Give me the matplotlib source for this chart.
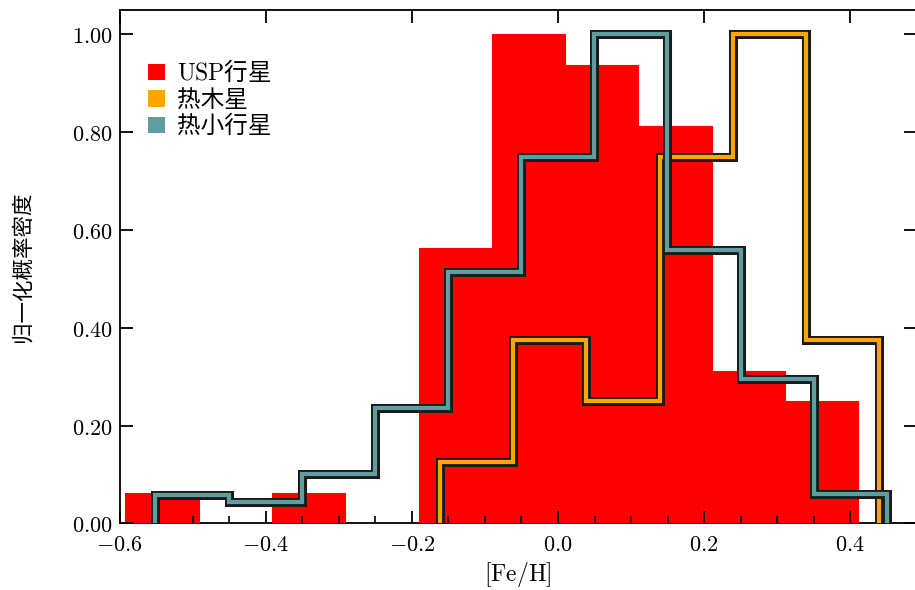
import numpy as np
import matplotlib
matplotlib.use("Agg")
import matplotlib.pyplot as plt
from matplotlib.patches import Patch
from matplotlib.ticker import FixedLocator, FuncFormatter, MultipleLocator

plt.rcParams['mathtext.fontset'] = 'cm'
plt.rcParams['font.family'] = ['Noto Sans CJK SC', 'DejaVu Sans']
plt.rcParams['axes.unicode_minus'] = True

# ---------------- data ----------------
usp_edges = np.linspace(-0.592, 0.411, 11)
usp_values = [0.0625, 0.0, 0.0625, 0.0, 0.5625, 1.0, 0.9375, 0.8125, 0.3125, 0.25]

hj_edges = np.linspace(-0.162, 0.440, 7)
hj_values = [0.125, 0.375, 0.25, 0.75, 1.0, 0.375]

hsp_edges = np.linspace(-0.551, 0.450, 11)
hsp_values = [0.057, 0.044, 0.100, 0.235, 0.515, 0.750, 1.0, 0.559, 0.295, 0.059]

labels = [r"$\mathrm{USP}$行星", "热木星", "热小行星"]
colors = ["#ff0000", "#ffa500", "#5f9ea0"]

x_ticks = [-0.6, -0.4, -0.2, 0.0, 0.2, 0.4]
y_ticks = [0.0, 0.2, 0.4, 0.6, 0.8, 1.0]
xlabel = "[Fe/H]"
ylabel = "归一化概率密度"

# ---------------- figure ----------------
fig = plt.figure(figsize=(9.15, 5.90), dpi=100)
ax = fig.add_axes([0.1307, 0.113, 0.8704, 0.870])

# USP bars
ax.bar(usp_edges[:-1], usp_values, width=np.diff(usp_edges), align='edge',
       color=colors[0], edgecolor=colors[0], linewidth=0.8, zorder=1)

def outlined_stairs(values, edges, color, z):
    for lw, c, zz in [(6.5, '#1a1a1a', z), (3.0, color, z + 0.1)]:
        sp = ax.stairs(values, edges, baseline=0, fill=False, color=c,
                       linewidth=lw, zorder=zz)
        sp.set_joinstyle('miter')
        sp.set_capstyle('butt')

outlined_stairs(hj_values, hj_edges, colors[1], 3)
outlined_stairs(hsp_values, hsp_edges, colors[2], 4)

ax.set_xlim(-0.6, 0.49)
ax.set_ylim(0, 1.05)

ax.xaxis.set_major_locator(FixedLocator(x_ticks))
ax.xaxis.set_minor_locator(MultipleLocator(0.05))
ax.yaxis.set_major_locator(FixedLocator(y_ticks))

def fmt_x(v, pos):
    s = f"{v:.1f}"
    if s == "-0.0":
        s = "0.0"
    return "$" + s + "$"

def fmt_y(v, pos):
    return "$" + f"{v:.2f}" + "$"

ax.xaxis.set_major_formatter(FuncFormatter(fmt_x))
ax.yaxis.set_major_formatter(FuncFormatter(fmt_y))

ax.tick_params(axis='x', which='major', direction='in', length=9, width=1.3,
               top=True, bottom=True, labelsize=16, pad=7)
ax.tick_params(axis='x', which='minor', direction='in', length=5, width=1.2,
               top=False, bottom=True)
ax.tick_params(axis='y', which='major', direction='in', length=9, width=1.3,
               left=True, right=True, labelsize=16, pad=5)

for sp in ax.spines.values():
    sp.set_linewidth(1.3)
    sp.set_zorder(0.5)

ax.set_xlabel("$" + r"[\mathrm{Fe}/\mathrm{H}]" + "$", fontsize=17, labelpad=3)
ax.set_ylabel(ylabel, fontsize=15.5, labelpad=28)

handles = [Patch(facecolor=c, edgecolor='none') for c in colors]
ax.legend(handles, labels, loc='upper left',
          bbox_to_anchor=(0.036, 0.905), frameon=False, fontsize=17,
          handlelength=0.7, handleheight=0.7, handletextpad=0.5,
          labelspacing=0.15, borderpad=0, borderaxespad=0)

fig.savefig("out.png", dpi=100)
